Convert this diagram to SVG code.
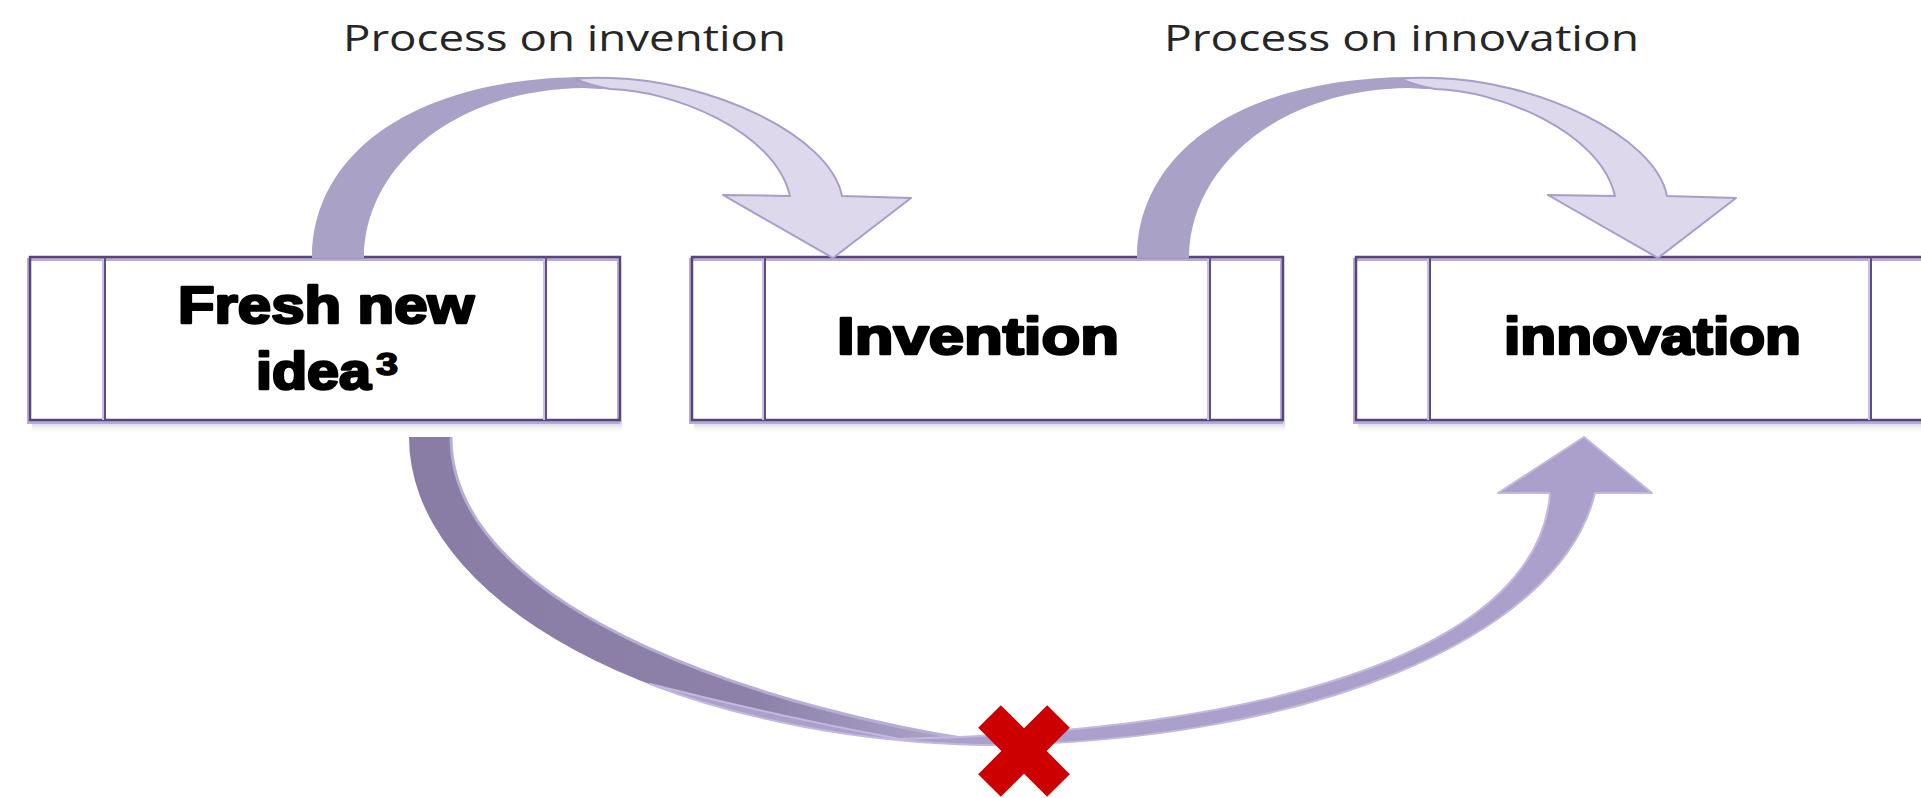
<svg xmlns="http://www.w3.org/2000/svg" width="1921" height="798" viewBox="0 0 1921 798">
<defs>
<style>
.lbl{font-family:"Open Sans","Noto Sans","Liberation Sans",sans-serif;font-size:36px;fill:#262626}
.bx{font-family:"Liberation Sans",Arial,sans-serif;font-weight:bold;font-size:52px;fill:#000;stroke:#000;stroke-width:2.6px;stroke-linejoin:round}
.sup{font-size:31px;stroke-width:1.6px}
.fill{fill:#fff;stroke:none}
.halo{fill:none;stroke:#b9aadc;stroke-width:3}
.frame{fill:none;stroke:#574677;stroke-width:2.5}
.div{stroke:#5e4d80;stroke-width:2}
.divh{stroke:#c9bfe4;stroke-width:2}
.back{fill:#aaa2c6}
.front{fill:#ddd8eb;stroke:#a89dc8;stroke-width:2;stroke-linejoin:round}
</style>
<linearGradient id="shadow" x1="0" y1="0" x2="0" y2="1">
<stop offset="0" stop-color="#b9b9c2" stop-opacity="0.8"/>
<stop offset="1" stop-color="#ffffff" stop-opacity="0"/>
</linearGradient>
<linearGradient id="darkfade" gradientUnits="userSpaceOnUse" x1="409" y1="0" x2="990" y2="0">
<stop offset="0" stop-color="#897da6"/>
<stop offset="0.6" stop-color="#8d81aa"/>
<stop offset="1" stop-color="#b4abd0"/>
</linearGradient>
<g id="curveDown">
<path class="back" d="M312,258 C312,150 420,77 588,77 C625,77 650,80 675,86 L600,89 L583,88 C450,90 364,170 364,258 Z"/>
<path class="front" d="M575,79 Q590,77 610,78 C710,80 830,135 842,196 L911,198 L833,258 L723,195 L790,196 C775,130 670,90 610,89 Q592,86 575,79 Z"/>
</g>
</defs>
<rect x="0" y="0" width="1921" height="798" fill="#fff"/>

<g id="node-fresh-idea">
<rect x="32" y="421" width="590" height="13" fill="url(#shadow)"/>
<rect class="fill" x="30" y="257" width="590" height="163"/>
<rect class="halo" x="28.5" y="259.5" width="590" height="163"/>
<rect class="frame" x="30" y="257" width="590" height="163"/>
<line class="divh" x1="103" y1="259" x2="103" y2="420"/>
<line class="div" x1="105" y1="257" x2="105" y2="420"/>
<line class="divh" x1="544" y1="259" x2="544" y2="420"/>
<line class="div" x1="546" y1="257" x2="546" y2="420"/>
<text class="bx" x="178" y="323" textLength="296" lengthAdjust="spacingAndGlyphs">Fresh new</text>
<text class="bx" x="256" y="389" textLength="115" lengthAdjust="spacingAndGlyphs">idea</text>
<text class="bx sup" x="376" y="375" textLength="22" lengthAdjust="spacingAndGlyphs">3</text>
</g>

<g id="node-invention">
<rect x="694" y="421" width="591" height="13" fill="url(#shadow)"/>
<rect class="fill" x="692" y="257" width="591" height="163"/>
<rect class="halo" x="690.5" y="259.5" width="591" height="163"/>
<rect class="frame" x="692" y="257" width="591" height="163"/>
<line class="divh" x1="763" y1="259" x2="763" y2="420"/>
<line class="div" x1="765" y1="257" x2="765" y2="420"/>
<line class="divh" x1="1208" y1="259" x2="1208" y2="420"/>
<line class="div" x1="1210" y1="257" x2="1210" y2="420"/>
<text class="bx" x="837" y="354" textLength="282" lengthAdjust="spacingAndGlyphs">Invention</text>
</g>

<g id="node-innovation">
<rect x="1358" y="421" width="591" height="13" fill="url(#shadow)"/>
<rect class="fill" x="1356" y="257" width="591" height="163"/>
<rect class="halo" x="1354.5" y="259.5" width="591" height="163"/>
<rect class="frame" x="1356" y="257" width="591" height="163"/>
<line class="divh" x1="1428" y1="259" x2="1428" y2="420"/>
<line class="div" x1="1430" y1="257" x2="1430" y2="420"/>
<line class="divh" x1="1869" y1="259" x2="1869" y2="420"/>
<line class="div" x1="1871" y1="257" x2="1871" y2="420"/>
<text class="bx" x="1504" y="354" textLength="297" lengthAdjust="spacingAndGlyphs">innovation</text>
</g>

<g id="connectors">
<g id="edge-idea-invention">
<use href="#curveDown"/>
<text class="lbl" x="343" y="51" textLength="443" lengthAdjust="spacingAndGlyphs">Process on invention</text>
</g>
<g id="edge-invention-innovation">
<use href="#curveDown" x="825"/>
<text class="lbl" x="1164" y="51" textLength="475" lengthAdjust="spacingAndGlyphs">Process on innovation</text>
</g>
<g id="edge-idea-innovation">
<path d="M409,437 A598,308 0 0 0 980,745 L980,741 C800,715 451,620 451,437 Z" fill="url(#darkfade)"/>
<path d="M451,437 C451,620 800,715 980,741" fill="none" stroke="#b7aed3" stroke-width="3"/>
<path d="M1550,493 L1498,493 L1584,437 L1652,493 L1595,493 C1560,640 1300,744 980,745 A598,308 0 0 1 650,684 Q780,717 900,739 C1300,730 1540,640 1550,493 Z" fill="#ab9fcb" stroke="#c2b9dc" stroke-width="2" stroke-linejoin="round"/>
<path id="blocked-mark" d="M989.5,716.5 L1058.5,785.5 M1058.5,716.5 L989.5,785.5" stroke="#cc0000" stroke-width="32" fill="none"/>
</g>
</g>
</svg>
